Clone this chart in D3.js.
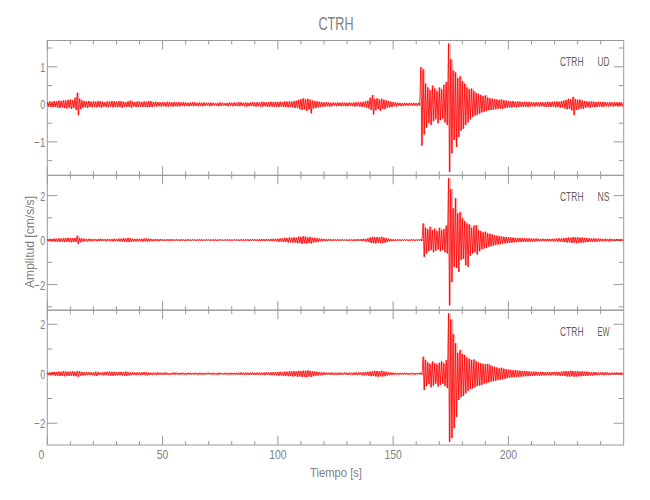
<!DOCTYPE html>
<html><head><meta charset="utf-8">
<script src="https://cdn.jsdelivr.net/npm/d3@7"></script>
<style>body{margin:0;background:#fff}svg{display:block}</style>
</head><body>
<svg id="c" width="650" height="500"></svg>
<script>
// ---------------- data (envelope read per 1 s bin) ----------------
const title = "CTRH";
const station = "CTRH";
const components = ["UD", "NS", "EW"];
const xLabel = "Tiempo [s]";
const yLabel = "Amplitud [cm/s/s]";
const xDomain = [0, 250];
const xMajorTicks = [0, 50, 100, 150, 200];
const xMinorTicks = [10,20,30,40,60,70,80,90,110,120,130,140,160,170,180,190,210,220,230,240];
const yDomains = [[-1.89, 1.70], [-3.15, 2.91], [-2.88, 2.57]];
const yMajorTicks = [[-1, 0, 1], [-2, 0, 2], [-2, 0, 2]];
const yMinorTicks = [[-1.5, -0.5, 0.5, 1.5], [-3, -1, 1], [-1, 1]];

const udUpper = [
0.06,0.08,0.07,0.09,0.08,0.10,0.09,0.11,0.10,0.12,
0.13,0.11,0.18,0.31,0.15,0.10,0.09,0.08,0.09,0.07,
0.08,0.07,0.09,0.08,0.07,0.06,0.08,0.07,0.09,0.08,
0.07,0.09,0.08,0.07,0.06,0.08,0.10,0.07,0.06,0.08,
0.07,0.06,0.08,0.07,0.09,0.08,0.06,0.07,0.06,0.05,
0.06,0.05,0.07,0.06,0.05,0.06,0.05,0.06,0.05,0.06,
0.05,0.04,0.05,0.06,0.05,0.04,0.05,0.04,0.05,0.04,
0.04,0.05,0.04,0.03,0.04,0.05,0.04,0.03,0.04,0.05,
0.04,0.05,0.04,0.06,0.05,0.04,0.05,0.04,0.05,0.06,
0.05,0.06,0.05,0.07,0.06,0.05,0.06,0.07,0.06,0.07,
0.06,0.07,0.06,0.08,0.07,0.08,0.07,0.09,0.10,0.12,
0.14,0.16,0.13,0.15,0.12,0.10,0.09,0.08,0.07,0.06,
0.05,0.06,0.05,0.04,0.05,0.04,0.05,0.04,0.05,0.04,
0.04,0.05,0.04,0.05,0.06,0.05,0.06,0.07,0.08,0.10,
0.18,0.25,0.14,0.16,0.13,0.15,0.12,0.10,0.09,0.07,
0.06,0.05,0.04,0.04,0.03,0.04,0.03,0.04,0.03,0.04,
0.03,0.04,0.99,0.93,0.55,0.45,0.38,0.50,0.42,0.35,
0.45,0.40,0.52,0.60,1.62,1.20,0.90,0.85,0.70,0.75,
0.62,0.55,0.45,0.40,0.42,0.35,0.30,0.28,0.25,0.22,
0.24,0.18,0.16,0.15,0.14,0.13,0.12,0.13,0.11,0.10,
0.09,0.08,0.09,0.07,0.08,0.07,0.06,0.07,0.06,0.07,
0.06,0.05,0.06,0.05,0.06,0.05,0.06,0.07,0.06,0.07,
0.07,0.08,0.07,0.09,0.10,0.12,0.15,0.13,0.20,0.14,
0.12,0.13,0.10,0.09,0.08,0.07,0.08,0.07,0.06,0.07,
0.06,0.07,0.06,0.05,0.06,0.05,0.06,0.05,0.06,0.05];
const udLower = [
-0.06,-0.07,-0.08,-0.07,-0.09,-0.10,-0.08,-0.10,-0.11,-0.09,
-0.12,-0.10,-0.15,-0.29,-0.13,-0.09,-0.08,-0.09,-0.07,-0.08,
-0.07,-0.08,-0.07,-0.09,-0.06,-0.07,-0.08,-0.06,-0.08,-0.07,
-0.08,-0.07,-0.09,-0.06,-0.07,-0.07,-0.09,-0.06,-0.07,-0.07,
-0.06,-0.07,-0.07,-0.08,-0.07,-0.07,-0.05,-0.06,-0.05,-0.06,
-0.05,-0.06,-0.06,-0.05,-0.06,-0.05,-0.06,-0.05,-0.04,-0.05,
-0.04,-0.05,-0.04,-0.05,-0.04,-0.05,-0.04,-0.05,-0.04,-0.03,
-0.05,-0.04,-0.03,-0.04,-0.05,-0.04,-0.03,-0.04,-0.05,-0.04,
-0.05,-0.04,-0.05,-0.05,-0.04,-0.05,-0.06,-0.05,-0.04,-0.05,
-0.06,-0.05,-0.06,-0.06,-0.05,-0.07,-0.06,-0.06,-0.07,-0.06,
-0.07,-0.06,-0.07,-0.07,-0.08,-0.07,-0.08,-0.10,-0.09,-0.13,
-0.15,-0.13,-0.17,-0.14,-0.24,-0.11,-0.10,-0.08,-0.07,-0.06,
-0.06,-0.05,-0.06,-0.05,-0.04,-0.05,-0.04,-0.05,-0.04,-0.05,
-0.05,-0.04,-0.05,-0.06,-0.05,-0.06,-0.07,-0.06,-0.09,-0.11,
-0.15,-0.27,-0.16,-0.13,-0.17,-0.12,-0.13,-0.09,-0.08,-0.07,
-0.05,-0.06,-0.04,-0.05,-0.04,-0.03,-0.04,-0.03,-0.04,-0.03,
-0.04,-0.03,-1.10,-0.80,-0.62,-0.50,-0.55,-0.45,-0.40,-0.50,
-0.42,-0.38,-0.48,-0.55,-1.80,-1.30,-0.95,-1.13,-0.87,-0.70,
-0.65,-0.55,-0.48,-0.40,-0.33,-0.30,-0.28,-0.25,-0.22,-0.20,
-0.18,-0.16,-0.15,-0.14,-0.13,-0.12,-0.11,-0.12,-0.10,-0.09,
-0.08,-0.09,-0.07,-0.08,-0.07,-0.06,-0.07,-0.06,-0.07,-0.06,
-0.05,-0.06,-0.05,-0.06,-0.05,-0.06,-0.07,-0.06,-0.07,-0.06,
-0.08,-0.07,-0.09,-0.08,-0.11,-0.13,-0.12,-0.16,-0.29,-0.15,
-0.13,-0.11,-0.12,-0.09,-0.08,-0.09,-0.07,-0.08,-0.07,-0.06,
-0.07,-0.06,-0.05,-0.06,-0.05,-0.06,-0.05,-0.06,-0.05,-0.06];

const nsUpper = [
0.05,0.06,0.05,0.07,0.06,0.08,0.07,0.09,0.08,0.10,
0.09,0.08,0.10,0.20,0.09,0.07,0.06,0.05,0.06,0.05,
0.05,0.04,0.05,0.06,0.05,0.04,0.05,0.04,0.05,0.06,
0.05,0.07,0.06,0.09,0.07,0.10,0.08,0.06,0.05,0.06,
0.05,0.06,0.07,0.08,0.06,0.05,0.04,0.05,0.04,0.05,
0.04,0.03,0.04,0.05,0.04,0.03,0.04,0.03,0.04,0.03,
0.03,0.04,0.03,0.04,0.03,0.03,0.04,0.03,0.03,0.04,
0.03,0.03,0.04,0.03,0.03,0.04,0.03,0.03,0.04,0.03,
0.03,0.04,0.03,0.03,0.04,0.03,0.04,0.03,0.04,0.04,
0.04,0.03,0.04,0.05,0.04,0.05,0.04,0.05,0.06,0.05,
0.06,0.08,0.07,0.10,0.09,0.12,0.10,0.13,0.11,0.16,
0.14,0.18,0.15,0.12,0.14,0.10,0.11,0.08,0.07,0.06,
0.05,0.04,0.05,0.04,0.04,0.03,0.04,0.03,0.04,0.03,
0.03,0.04,0.03,0.04,0.04,0.05,0.04,0.06,0.05,0.08,
0.12,0.15,0.13,0.14,0.12,0.15,0.11,0.09,0.06,0.05,
0.04,0.03,0.04,0.03,0.03,0.04,0.03,0.03,0.04,0.03,
0.03,0.04,0.04,0.75,0.55,0.48,0.60,0.45,0.52,0.40,
0.55,0.45,0.50,0.65,2.78,2.30,1.43,1.88,1.20,1.27,
0.98,0.85,0.75,0.70,0.55,0.65,0.68,0.45,0.40,0.35,
0.38,0.30,0.28,0.25,0.22,0.20,0.18,0.16,0.15,0.14,
0.13,0.12,0.11,0.10,0.09,0.10,0.08,0.09,0.07,0.08,
0.07,0.06,0.07,0.06,0.05,0.06,0.05,0.06,0.05,0.06,
0.06,0.07,0.08,0.07,0.09,0.10,0.12,0.11,0.14,0.12,
0.13,0.11,0.12,0.10,0.09,0.08,0.07,0.08,0.06,0.07,
0.06,0.05,0.06,0.05,0.06,0.05,0.04,0.05,0.04,0.05];
const nsLower = [
-0.05,-0.06,-0.06,-0.07,-0.07,-0.08,-0.08,-0.09,-0.08,-0.09,
-0.10,-0.08,-0.09,-0.18,-0.10,-0.07,-0.06,-0.06,-0.05,-0.05,
-0.04,-0.05,-0.05,-0.05,-0.04,-0.05,-0.04,-0.05,-0.06,-0.05,
-0.06,-0.06,-0.07,-0.08,-0.08,-0.09,-0.07,-0.06,-0.06,-0.05,
-0.06,-0.07,-0.06,-0.07,-0.05,-0.05,-0.05,-0.04,-0.05,-0.04,
-0.04,-0.04,-0.03,-0.04,-0.04,-0.03,-0.04,-0.04,-0.03,-0.04,
-0.04,-0.03,-0.04,-0.03,-0.04,-0.03,-0.03,-0.04,-0.03,-0.03,
-0.04,-0.03,-0.03,-0.04,-0.03,-0.03,-0.04,-0.03,-0.03,-0.04,
-0.03,-0.03,-0.04,-0.04,-0.03,-0.04,-0.03,-0.04,-0.04,-0.03,
-0.04,-0.04,-0.05,-0.04,-0.05,-0.04,-0.05,-0.05,-0.05,-0.06,
-0.07,-0.07,-0.09,-0.08,-0.11,-0.10,-0.12,-0.11,-0.14,-0.13,
-0.17,-0.14,-0.16,-0.13,-0.15,-0.11,-0.10,-0.09,-0.06,-0.05,
-0.05,-0.05,-0.04,-0.04,-0.03,-0.04,-0.03,-0.04,-0.03,-0.04,
-0.04,-0.03,-0.04,-0.04,-0.05,-0.04,-0.05,-0.05,-0.07,-0.09,
-0.13,-0.14,-0.15,-0.12,-0.14,-0.13,-0.12,-0.08,-0.06,-0.05,
-0.04,-0.04,-0.03,-0.04,-0.03,-0.03,-0.04,-0.03,-0.03,-0.04,
-0.03,-0.03,-0.04,-0.75,-0.60,-0.50,-0.45,-0.55,-0.48,-0.42,
-0.50,-0.45,-0.55,-0.60,-2.93,-1.88,-1.20,-1.25,-1.43,-0.90,
-0.85,-1.13,-1.20,-0.70,-0.60,-0.55,-0.65,-0.50,-0.42,-0.38,
-0.35,-0.30,-0.28,-0.25,-0.22,-0.20,-0.19,-0.16,-0.15,-0.13,
-0.12,-0.12,-0.10,-0.10,-0.09,-0.09,-0.08,-0.08,-0.07,-0.07,
-0.07,-0.06,-0.06,-0.06,-0.05,-0.05,-0.06,-0.05,-0.05,-0.06,
-0.06,-0.07,-0.07,-0.08,-0.09,-0.11,-0.10,-0.13,-0.12,-0.14,
-0.12,-0.12,-0.11,-0.10,-0.09,-0.08,-0.08,-0.07,-0.07,-0.06,
-0.06,-0.05,-0.05,-0.06,-0.05,-0.05,-0.05,-0.04,-0.05,-0.04];

const ewUpper = [
0.05,0.06,0.07,0.08,0.07,0.09,0.08,0.10,0.09,0.08,
0.09,0.10,0.08,0.11,0.09,0.07,0.06,0.07,0.06,0.05,
0.06,0.08,0.06,0.05,0.06,0.07,0.08,0.09,0.07,0.08,
0.06,0.07,0.08,0.07,0.09,0.06,0.05,0.06,0.05,0.06,
0.05,0.06,0.07,0.06,0.05,0.04,0.05,0.04,0.05,0.04,
0.04,0.05,0.04,0.03,0.04,0.05,0.04,0.03,0.04,0.04,
0.03,0.04,0.04,0.03,0.04,0.03,0.04,0.04,0.03,0.04,
0.04,0.03,0.04,0.03,0.04,0.04,0.03,0.04,0.03,0.04,
0.04,0.03,0.04,0.04,0.05,0.04,0.05,0.04,0.05,0.05,
0.04,0.05,0.05,0.04,0.05,0.06,0.05,0.06,0.07,0.06,
0.07,0.08,0.07,0.09,0.08,0.10,0.09,0.11,0.10,0.12,
0.11,0.13,0.12,0.14,0.11,0.10,0.09,0.08,0.07,0.06,
0.05,0.05,0.04,0.05,0.04,0.04,0.05,0.04,0.04,0.05,
0.04,0.05,0.04,0.05,0.05,0.06,0.05,0.06,0.07,0.08,
0.09,0.10,0.12,0.11,0.10,0.12,0.09,0.08,0.06,0.05,
0.04,0.04,0.03,0.04,0.03,0.04,0.03,0.03,0.04,0.03,
0.03,0.04,0.04,0.69,0.55,0.45,0.40,0.50,0.42,0.38,
0.45,0.50,0.42,0.55,2.44,2.20,1.60,1.23,0.85,0.96,
0.80,0.75,0.65,0.60,0.55,0.58,0.50,0.45,0.42,0.40,
0.38,0.40,0.35,0.30,0.28,0.25,0.22,0.24,0.20,0.18,
0.17,0.16,0.14,0.15,0.13,0.12,0.11,0.12,0.10,0.09,
0.08,0.09,0.08,0.07,0.08,0.07,0.06,0.07,0.06,0.07,
0.07,0.08,0.07,0.09,0.10,0.11,0.10,0.12,0.11,0.10,
0.11,0.09,0.10,0.08,0.09,0.07,0.06,0.07,0.06,0.05,
0.06,0.05,0.06,0.05,0.04,0.05,0.04,0.05,0.04,0.05];
const ewLower = [
-0.05,-0.07,-0.06,-0.08,-0.08,-0.09,-0.09,-0.10,-0.08,-0.09,
-0.08,-0.09,-0.10,-0.12,-0.08,-0.07,-0.07,-0.06,-0.05,-0.06,
-0.07,-0.09,-0.05,-0.06,-0.07,-0.06,-0.07,-0.08,-0.08,-0.07,
-0.07,-0.06,-0.07,-0.08,-0.08,-0.07,-0.06,-0.05,-0.06,-0.05,
-0.06,-0.05,-0.06,-0.07,-0.05,-0.05,-0.04,-0.05,-0.04,-0.05,
-0.05,-0.04,-0.04,-0.04,-0.03,-0.04,-0.04,-0.04,-0.03,-0.04,
-0.04,-0.03,-0.04,-0.04,-0.03,-0.04,-0.03,-0.04,-0.04,-0.03,
-0.03,-0.04,-0.03,-0.04,-0.04,-0.03,-0.04,-0.03,-0.04,-0.04,
-0.03,-0.04,-0.04,-0.05,-0.04,-0.05,-0.04,-0.05,-0.04,-0.05,
-0.05,-0.04,-0.05,-0.05,-0.06,-0.05,-0.06,-0.06,-0.06,-0.07,
-0.08,-0.07,-0.09,-0.08,-0.10,-0.09,-0.11,-0.10,-0.12,-0.11,
-0.13,-0.12,-0.14,-0.11,-0.13,-0.10,-0.08,-0.07,-0.06,-0.06,
-0.05,-0.04,-0.05,-0.04,-0.05,-0.04,-0.04,-0.05,-0.04,-0.04,
-0.05,-0.04,-0.05,-0.05,-0.06,-0.05,-0.06,-0.07,-0.06,-0.08,
-0.10,-0.09,-0.11,-0.12,-0.10,-0.11,-0.10,-0.07,-0.06,-0.05,
-0.04,-0.03,-0.04,-0.03,-0.04,-0.03,-0.04,-0.03,-0.03,-0.04,
-0.03,-0.03,-0.04,-0.66,-0.50,-0.42,-0.55,-0.48,-0.40,-0.52,
-0.45,-0.40,-0.50,-0.58,-2.75,-2.60,-2.20,-1.74,-1.06,-0.95,
-0.90,-0.80,-0.70,-0.62,-0.59,-0.55,-0.50,-0.48,-0.45,-0.40,
-0.38,-0.35,-0.32,-0.30,-0.28,-0.25,-0.24,-0.22,-0.20,-0.18,
-0.16,-0.15,-0.14,-0.13,-0.12,-0.12,-0.11,-0.10,-0.10,-0.09,
-0.08,-0.08,-0.07,-0.08,-0.07,-0.07,-0.06,-0.06,-0.07,-0.06,
-0.07,-0.07,-0.08,-0.08,-0.09,-0.11,-0.12,-0.10,-0.12,-0.11,
-0.10,-0.10,-0.09,-0.09,-0.08,-0.07,-0.07,-0.06,-0.06,-0.06,
-0.05,-0.06,-0.05,-0.05,-0.05,-0.04,-0.05,-0.04,-0.05,-0.04];

const binSeconds = 1;

// ---------------- drawing ----------------
const upperSets = [udUpper, nsUpper, ewUpper];
const lowerSets = [udLower, nsLower, ewLower];

const plotL = 47.3, plotR = 623.7, plotT = 40.5, plotB = 445;
const panelH = (plotB - plotT) / 3;
const FONT = "'Liberation Sans','DejaVu Sans',sans-serif";
const axisColor = "#9a9a9a", labelColor = "#808080", compColor = "#5e5e5e";

const svg = d3.select("#c");
const x = d3.scaleLinear().domain(xDomain).range([plotL, plotR]);
const fmt = d3.format("");

function addText(sel, opts) {
  const t = sel.append("text").attr("x", opts.x).attr("y", opts.y)
    .attr("font-family", FONT).attr("font-size", opts.size)
    .attr("fill", opts.color || labelColor)
    .attr("text-anchor", opts.anchor || "start");
  if (opts.len) t.attr("textLength", opts.len).attr("lengthAdjust", "spacingAndGlyphs");
  if (opts.transform) t.attr("transform", opts.transform);
  t.text(opts.text);
  return t;
}

addText(svg, {x: 336, y: 30, size: 19, anchor: "middle", len: 35, text: title});

const wavePaths = [];
components.forEach((comp, p) => {
  const y0 = plotT + p * panelH, y1 = y0 + panelH;
  const y = d3.scaleLinear().domain(yDomains[p]).range([y1, y0]);
  const g = svg.append("g");
  g.append("rect").attr("x", plotL).attr("y", y0).attr("width", plotR - plotL).attr("height", panelH)
    .attr("fill", "none").attr("stroke", axisColor).attr("stroke-width", 1);
  const xt = xMajorTicks.map(v => ({v, len: 9})).concat(xMinorTicks.map(v => ({v, len: 4})));
  xt.forEach(d => {
    g.append("line").attr("x1", x(d.v)).attr("x2", x(d.v)).attr("y1", y0).attr("y2", y0 + d.len)
      .attr("stroke", axisColor);
    g.append("line").attr("x1", x(d.v)).attr("x2", x(d.v)).attr("y1", y1).attr("y2", y1 - d.len)
      .attr("stroke", axisColor);
  });
  const yt = yMajorTicks[p].map(v => ({v, len: 10})).concat(yMinorTicks[p].map(v => ({v, len: 5})));
  yt.forEach(d => {
    g.append("line").attr("x1", plotL).attr("x2", plotL + d.len).attr("y1", y(d.v)).attr("y2", y(d.v))
      .attr("stroke", axisColor);
    g.append("line").attr("x1", plotR).attr("x2", plotR - d.len).attr("y1", y(d.v)).attr("y2", y(d.v))
      .attr("stroke", axisColor);
  });
  yMajorTicks[p].forEach(v => {
    const s = fmt(v);
    addText(g, {x: plotL - 2, y: y(v) + 5, size: 13.5, anchor: "end",
      len: s.length === 1 ? 5 : 11, text: s});
  });
  addText(g, {x: 560, y: y0 + 25.5, size: 12.5, color: compColor, len: 23.5, text: station});
  addText(g, {x: 609.5, y: y0 + 25.5, size: 12.5, color: compColor, anchor: "end", len: 12, text: comp});

  // zig-zag between the upper and lower envelope of each bin
  const pts = [];
  upperSets[p].forEach((u, i) => {
    pts.push([i * binSeconds, u]);
    pts.push([i * binSeconds + binSeconds / 2, lowerSets[p][i]]);
  });
  const line = d3.line().x(d => x(d[0])).y(d => y(d[1]));
  const area = d3.area().x(d => x(d[0])).y0(d => y(d[2])).y1(d => y(d[1])).curve(d3.curveStepAfter);
  const bins = upperSets[p].map((u, i) => [i * binSeconds, u, lowerSets[p][i]]);
  bins.push([xDomain[1], upperSets[p][upperSets[p].length - 1], lowerSets[p][lowerSets[p].length - 1]]);
  wavePaths.push({line: line(pts), area: area(bins)});
});

xMajorTicks.forEach(v => {
  const s = fmt(v);
  addText(svg, {x: x(v) + (v === 0 ? -6 : 0), y: 458.5, size: 13.5, anchor: "middle",
    len: s.length * 5.8, text: s});
});
addText(svg, {x: 336, y: 476.5, size: 13.5, anchor: "middle", len: 52, text: xLabel});
addText(svg, {x: 0, y: 0, size: 13.5, anchor: "middle", len: 92,
  transform: "translate(34,242) rotate(-90)", text: yLabel});

wavePaths.forEach(w => {
  svg.append("path").attr("d", w.area).attr("fill", "#ff0000").attr("fill-opacity", 0.3)
    .attr("stroke", "none");
  svg.append("path").attr("d", w.line).attr("fill", "none").attr("stroke", "#ff0000")
    .attr("stroke-width", 0.8).attr("stroke-linejoin", "miter");
});
</script>
</body></html>
